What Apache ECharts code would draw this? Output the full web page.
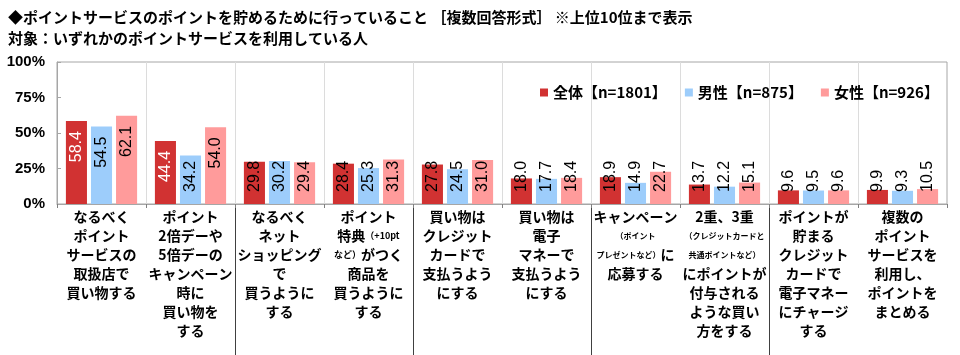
<!DOCTYPE html>
<html>
<head>
<meta charset="utf-8">
<script src="https://cdn.jsdelivr.net/npm/echarts@6/dist/echarts.min.js"></script>
<style>html,body{margin:0;padding:0;background:#fff}#c{width:960px;height:355px}</style>
</head>
<body>
<div id="c"></div>
<script>
const titleLines = [
  '◆ポイントサービスのポイントを貯めるために行っていること ［複数回答形式］ ※上位10位まで表示',
  '対象：いずれかのポイントサービスを利用している人'
];
const categories = [
  'なるべく\nポイント\nサービスの\n取扱店で\n買い物する',
  'ポイント\n2倍デーや\n5倍デーの\nキャンペーン\n時に\n買い物を\nする',
  'なるべく\nネット\nショッピング\nで\n買うように\nする',
  'ポイント\n特典{s|（+10pt}\n{s|など）}がつく\n商品を\n買うように\nする',
  '買い物は\nクレジット\nカードで\n支払うよう\nにする',
  '買い物は\n電子\nマネーで\n支払うよう\nにする',
  'キャンペーン\n{t|（ポイント}\n{t|プレゼントなど）}に\n応募する',
  '2重、3重\n{t|（クレジットカードと}\n{t|共通ポイントなど）}\nにポイントが\n付与される\nような買い\n方をする',
  'ポイントが\n貯まる\nクレジット\nカードで\n電子マネー\nにチャージ\nする',
  '複数の\nポイント\nサービスを\n利用し、\nポイントを\nまとめる'
];
const seriesNames = ['全体【n=1801】', '男性【n=875】', '女性【n=926】'];
const totalValues = [58.4, 44.4, 29.8, 28.4, 27.8, 18.0, 18.9, 13.7, 9.6, 9.9];
const maleValues  = [54.5, 34.2, 30.2, 25.3, 24.5, 17.7, 14.9, 12.2, 9.5, 9.3];
const femaleValues= [62.1, 54.0, 29.4, 31.3, 31.0, 18.4, 22.7, 15.1, 9.6, 10.5];
const yTicks = [0, 25, 50, 75, 100];

const colors = ['#d13232', '#9dcdfb', '#ff9b9b'];
const CJK = '"Noto Sans CJK JP", sans-serif';
const NUM = '"Liberation Sans", Arial, sans-serif';

function buildData(values, sIdx) {
  return values.map(v => {
    const top = v >= 40;
    return {
      value: v,
      label: {
        position: top ? 'insideTop' : 'insideBottom',
        distance: top ? 10 : 12,
        align: top ? 'right' : 'left',
        verticalAlign: 'middle',
        color: (sIdx === 0 && top) ? '#ffffff' : '#000000'
      }
    };
  });
}

const chart = echarts.init(document.getElementById('c'), null, {renderer: 'canvas'});
chart.setOption({
  animation: false,
  backgroundColor: '#ffffff',
  color: colors,
  title: {
    text: titleLines.join('\n'),
    left: 3, top: 2,
    textStyle: {fontFamily: CJK, fontSize: 15, fontWeight: 'bold', color: '#000', lineHeight: 21}
  },
  legend: {
    data: seriesNames,
    left: 535, top: 80,
    icon: 'rect', itemWidth: 8, itemHeight: 8, itemGap: 18,
    textStyle: {fontFamily: CJK, fontSize: 15, fontWeight: 'bold', color: '#000'}
  },
  grid: [
    {left: 57, right: 13, top: 62, bottom: 151, show: true, borderColor: '#a6a6a6', borderWidth: 1},
    {left: 57, right: 13, top: 204, bottom: 0}
  ],
  xAxis: [
    {
      type: 'category', gridIndex: 0, data: categories,
      axisLine: {lineStyle: {color: '#a6a6a6'}},
      axisTick: {show: true, length: 4, lineStyle: {color: '#808080'}},
      splitLine: {show: true, showMinLine: false, showMaxLine: false, lineStyle: {color: '#dcdcdc'}},
      axisLabel: {
        interval: 0, margin: 3,
        fontFamily: CJK, fontSize: 14, fontWeight: 'bold', color: '#000', lineHeight: 19, align: 'center',
        rich: {
          s: {fontFamily: CJK, fontSize: 9, fontWeight: 'bold', color: '#000', lineHeight: 19},
          t: {fontFamily: CJK, fontSize: 8, fontWeight: 'bold', color: '#000', lineHeight: 19}
        }
      }
    },
    {
      type: 'category', gridIndex: 1, data: categories,
      axisLine: {show: false}, axisTick: {show: false}, axisLabel: {show: false},
      splitLine: {show: true, showMinLine: false, showMaxLine: false, lineStyle: {color: '#404040', width: 1}}
    }
  ],
  yAxis: [
    {
      type: 'value', gridIndex: 0, min: 0, max: 100, interval: 25,
      axisLine: {show: true, lineStyle: {color: '#a6a6a6'}},
      axisTick: {show: true, inside: true, length: 4, lineStyle: {color: '#a6a6a6'}},
      splitLine: {show: false},
      axisLabel: {
        margin: 12, fontFamily: NUM, fontSize: 15, fontWeight: 'bold', color: '#000',
        formatter: v => yTicks.indexOf(v) >= 0 ? v + '%' : ''
      }
    },
    {type: 'value', gridIndex: 1, show: false, min: 0, max: 1}
  ],
  series: [totalValues, maleValues, femaleValues].map((vals, i) => ({
    name: seriesNames[i],
    type: 'bar',
    xAxisIndex: 0, yAxisIndex: 0,
    barGap: '19%',
    barCategoryGap: '20%',
    data: buildData(vals, i),
    label: {
      show: true, rotate: 90,
      fontFamily: NUM, fontSize: 16, fontWeight: 'normal',
      formatter: p => p.value.toFixed(1)
    }
  }))
});
</script>
</body>
</html>
